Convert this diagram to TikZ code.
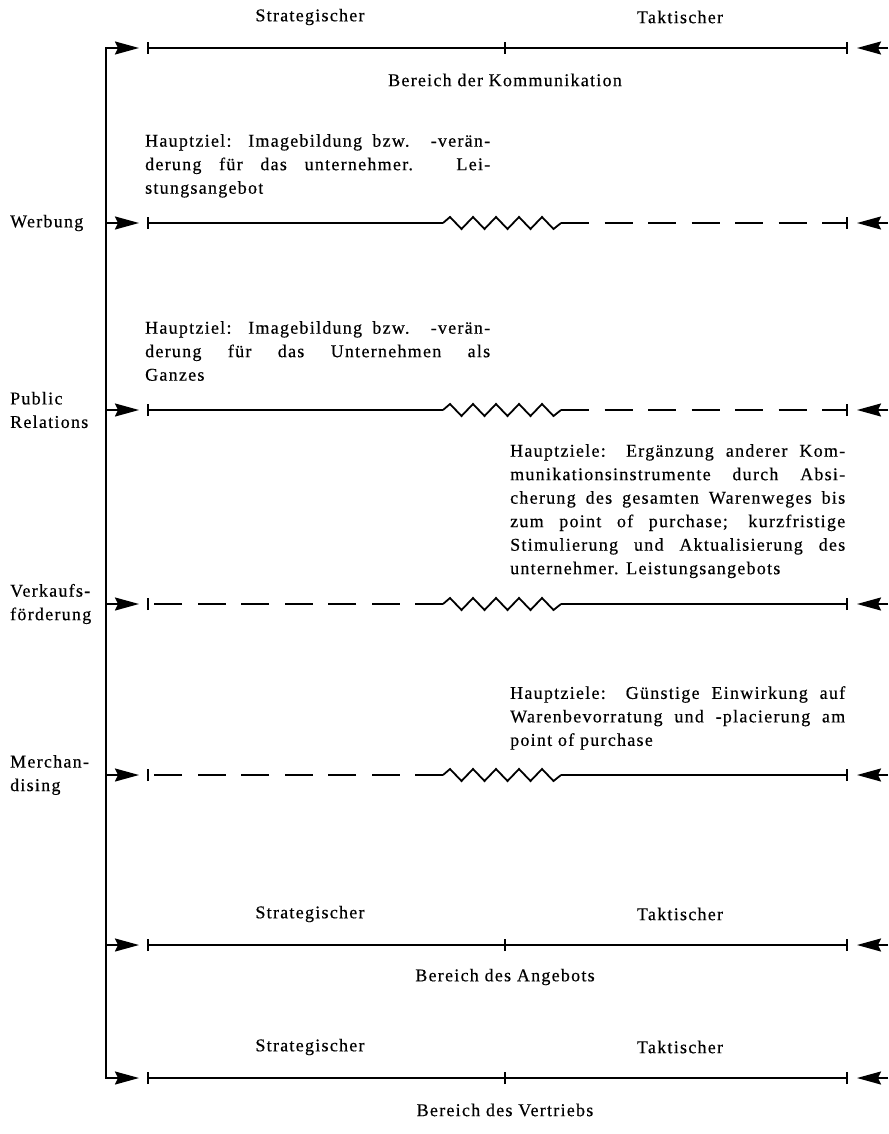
\documentclass[tikz,border=0pt]{standalone}
\usepackage{fontspec}
\setmainfont{Liberation Serif}[LetterSpace=7,FakeBold=0.4]
\usetikzlibrary{arrows.meta}
\begin{document}
\begin{tikzpicture}[x=1pt,y=-1pt,
  ln/.style={line width=1.8pt},
  dsh/.style={ln, dash pattern=on 28pt off 15.5pt},
  arr/.style={ln, -{Stealth[length=24pt,width=13pt,inset=3pt]}},
  lbl/.style={inner sep=0pt, font=\fontsize{18}{23.5}\selectfont},
  blk/.style={lbl, align=left, anchor=north west}]
\useasboundingbox (0,0) rectangle (888,1134);
% row coordinates
\foreach \i/\y in {1/48,2/223,3/410,4/604,5/775,6/945,7/1078}{
  \coordinate (A\i) at (106,\y);
  \coordinate (T\i) at (139,\y);
  \coordinate (L\i) at (148,\y);
  \coordinate (M\i) at (505,\y);
  \coordinate (Za\i) at (443,\y);
  \coordinate (Zb\i) at (561,\y);
  \coordinate (R\i) at (847,\y);
  \coordinate (S\i) at (857,\y);
  \coordinate (E\i) at (888,\y);
}
% left stem
\draw[ln, line cap=rect] (A1) -- (A7);
\foreach \i in {1,...,7}{
  \draw[arr] (A\i) -- (T\i);
  \draw[arr] (E\i) -- (S\i);
  \draw[ln] ([yshift=-6pt]L\i) -- ([yshift=6pt]L\i);
  \draw[ln] ([yshift=-6pt]R\i) -- ([yshift=6pt]R\i);
}
% full scales
\foreach \i in {1,6,7}{
  \draw[ln] (L\i) -- (R\i);
  \draw[ln] ([yshift=-6pt]M\i) -- ([yshift=6pt]M\i);
}
% zigzag rows
\foreach \i in {2,3,4,5}{
  \draw[ln, line join=miter] (Za\i) -- ++(7,-6) -- ++(11.5,12) -- ++(11.5,-12) -- ++(11.5,12) -- ++(11.5,-12)
    -- ++(11.5,12) -- ++(11.5,-12) -- ++(11.5,12) -- ++(11.5,-12) -- ++(11.5,12) -- ++(7.5,-6);
}
\foreach \i in {2,3}{
  \draw[ln] (L\i) -- (Za\i);
  \draw[dsh] (Zb\i) -- (R\i);
}
\foreach \i in {4,5}{
  \draw[dsh] (Za\i) -- (L\i);
  \draw[ln] (Zb\i) -- (R\i);
}
% scale labels
\node[lbl] (st1) at (310,17) {Strategischer};
\node[lbl] (ta1) at (680,17) {Taktischer};
\node[lbl] (b1) at (505,80) {Bereich der Kommunikation};
\node[lbl] (st6) at (310,914) {Strategischer};
\node[lbl] (ta6) at (680,914) {Taktischer};
\node[lbl] (b6) at (505,977) {Bereich des Angebots};
\node[lbl] (st7) at (310,1047) {Strategischer};
\node[lbl] (ta7) at (680,1047) {Taktischer};
\node[lbl] (b7) at (505,1110) {Bereich des Vertriebs};
% left labels
\node[lbl, anchor=west] (w) at (10,223) {Werbung};
\node[lbl, anchor=west, align=left] (pr) at (10,410) {Public\\Relations};
\node[lbl, anchor=west, align=left] (vk) at (10,604) {Verkaufs-\\förderung};
\node[lbl, anchor=west, align=left] (me) at (10,775) {Merchan-\\dising};
% text blocks
\node[blk] (tw) at (145,134) {\makebox[345pt][s]{Hauptziel: Imagebildung bzw. -verän-}\\
  \makebox[345pt][s]{derung für das unternehmer. Lei-}\\
  stungsangebot};
\node[blk] (tp) at (145,321) {\makebox[345pt][s]{Hauptziel: Imagebildung bzw. -verän-}\\
  \makebox[345pt][s]{derung für das Unternehmen als}\\
  Ganzes};
\node[blk] (tv) at (510,444) {\makebox[335pt][s]{Hauptziele: Ergänzung anderer Kom-}\\
  \makebox[335pt][s]{munikationsinstrumente durch Absi-}\\
  \makebox[335pt][s]{cherung des gesamten Warenweges bis}\\
  \makebox[335pt][s]{zum point of purchase; kurzfristige}\\
  \makebox[335pt][s]{Stimulierung und Aktualisierung des}\\
  unternehmer. Leistungsangebots};
\node[blk] (tm) at (510,686) {\makebox[335pt][s]{Hauptziele: Günstige Einwirkung auf}\\
  \makebox[335pt][s]{Warenbevorratung und -placierung am}\\
  point of purchase};
\end{tikzpicture}
\end{document}
